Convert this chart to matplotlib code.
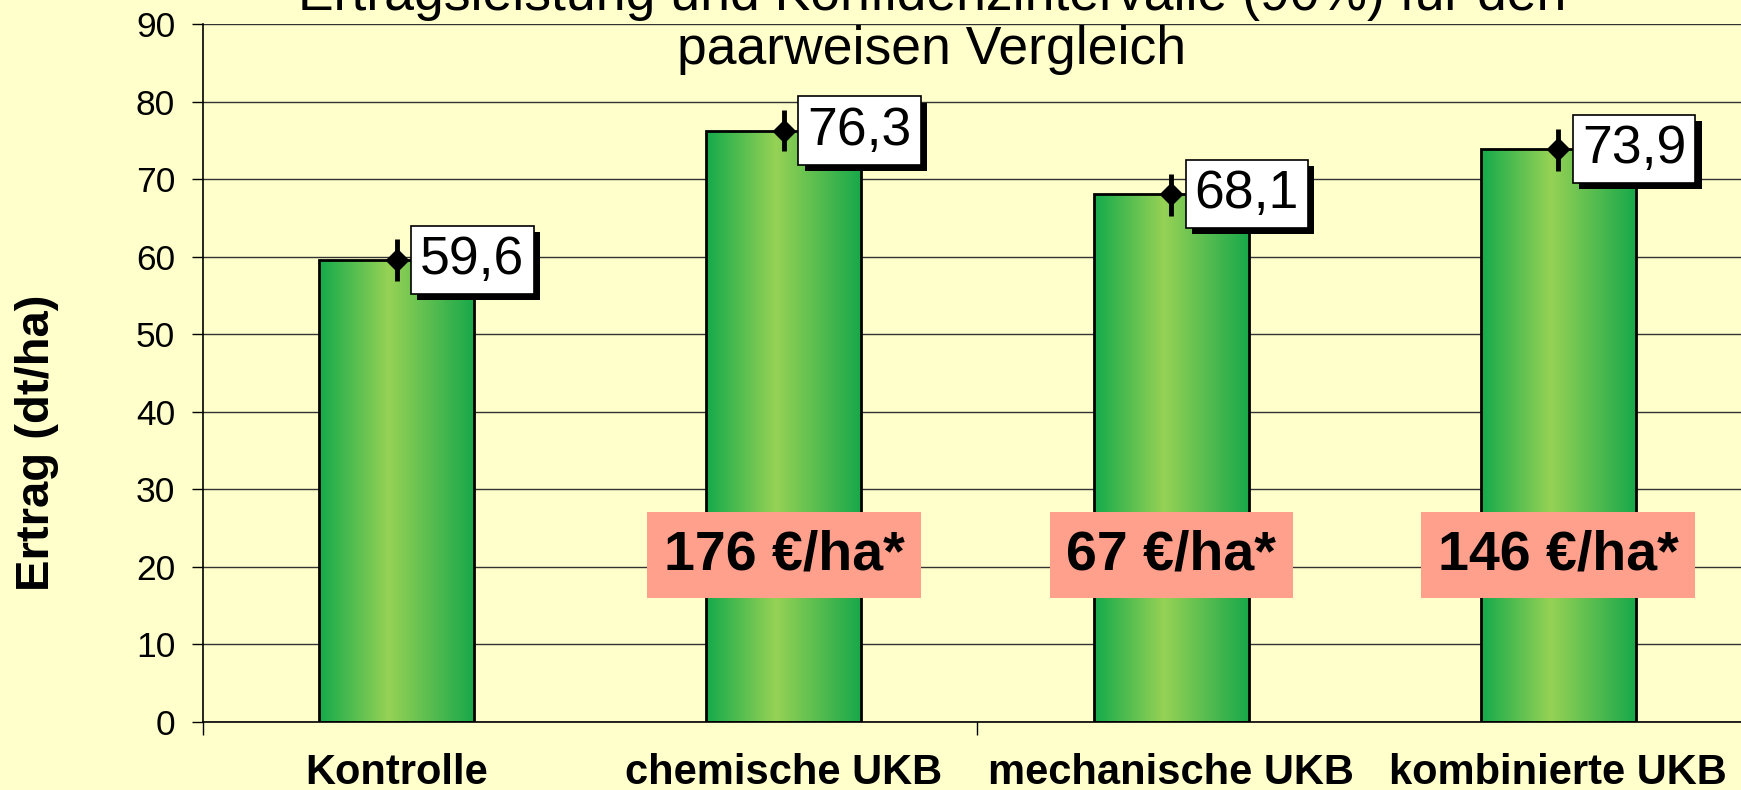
import numpy as np
import matplotlib
matplotlib.use("Agg")
import matplotlib.pyplot as plt
import matplotlib.patheffects as pe
import matplotlib.transforms as mtransforms
from matplotlib.colors import LinearSegmentedColormap

# data
categories = ["Kontrolle", "chemische UKB", "mechanische UKB", "kombinierte UKB"]
ertrag = [59.6, 76.3, 68.1, 73.9]
ki_unten = [56.9, 73.6, 65.3, 71.1]   # 90% KI, untere Grenze
ki_oben = [62.3, 78.9, 70.7, 76.5]    # 90% KI, obere Grenze
mehrerloes = ["", "176 €/ha*", "67 €/ha*", "146 €/ha*"]
y_ticks = [0, 10, 20, 30, 40, 50, 60, 70, 80, 90]

title = "Ertragsleistung und Konfidenzintervalle (90%) für den\npaarweisen Vergleich"
ylabel = "Ertrag (dt/ha)"

bg = "#ffffcc"
pink = "#ffa08c"
green = LinearSegmentedColormap.from_list(
    "bar", [(0.0, "#14aa4b"), (0.45, "#96d255"), (1.0, "#18a84a")])

plt.rcParams["font.family"] = ["Liberation Sans", "DejaVu Sans"]

W, H = 1741, 790
fig = plt.figure(figsize=(W / 100, H / 100), dpi=100, facecolor=bg)
# axes runs a bit past the right edge, like in the slide
ax = fig.add_axes([203 / W, 68.3 / H, (1752 - 203) / W, (765.6 - 68.3) / H])
ax.set_facecolor(bg)

x = np.arange(len(categories))
bars = ax.bar(x, ertrag, width=0.4, facecolor="none", edgecolor="black",
              linewidth=2, zorder=3)

# horizontal gradient fill for each bar
grad = np.linspace(0, 1, 256).reshape(1, -1)
for b in bars:
    im = ax.imshow(grad, cmap=green, aspect="auto", zorder=2,
                   extent=(b.get_x(), b.get_x() + b.get_width(), 0, b.get_height()))
    im.set_clip_path(b)

yerr = [np.array(ertrag) - np.array(ki_unten), np.array(ki_oben) - np.array(ertrag)]
ax.errorbar(x, ertrag, yerr=yerr, fmt="D", color="black", ms=11,
            elinewidth=3.5, capsize=0, zorder=4)

# white value boxes with drop shadow
for xi, v in zip(x, ertrag):
    t = ax.annotate(f"{v:.1f}".replace(".", ","), xy=(xi, v), xytext=(17, 0),
                    textcoords="offset points", ha="left", va="center", fontsize=38.5,
                    bbox=dict(boxstyle="square,pad=0.17", fc="white", ec="black", lw=1.2),
                    zorder=5)
    t.get_bbox_patch().set_path_effects(
        [pe.withSimplePatchShadow(offset=(4.5, -4.5), shadow_rgbFace="black", alpha=1)])

# pink boxes with extra revenue
for xi, s in zip(x, mehrerloes):
    if s:
        ax.text(xi, 21.5, s, ha="center", va="center", fontsize=40, fontweight="bold",
                bbox=dict(boxstyle="square,pad=0.3", fc=pink, ec="none"), zorder=6)

ax.set_xlim(-0.5, 3.5)
ax.set_ylim(0, 90)
ax.set_yticks(y_ticks)
ax.set_yticklabels([str(t) for t in y_ticks])
ax.tick_params(axis="y", length=8, width=1, pad=12, labelsize=25.5)
ax.set_xticks([-0.5, 1.5, 3.5])
ax.set_xticklabels([])
ax.tick_params(axis="x", length=9, width=1)
ax.yaxis.grid(True, color="#333333", linewidth=1)
ax.set_axisbelow(True)
ax.spines["top"].set_visible(False)
ax.spines["right"].set_visible(False)
ax.spines["left"].set_linewidth(1.2)
ax.spines["bottom"].set_linewidth(1.2)

# category labels
trans = mtransforms.blended_transform_factory(ax.transData, fig.transFigure)
for xi, c in zip(x, categories):
    ax.text(xi, 1 - 784 / H, c, transform=trans, ha="center", va="baseline",
            fontsize=30, fontweight="bold", clip_on=False)

fig.text(37 / W, 1 - 443 / H, ylabel, rotation=90, ha="center", va="center",
         fontsize=34, fontweight="bold")
# baseline of the last line; first line runs off the top as in the slide
fig.text(932 / W, 1 - 64 / H, title, ha="center", va="baseline", fontsize=38.5,
         linespacing=1.1)

fig.savefig("out.png", dpi=100, facecolor=bg)
